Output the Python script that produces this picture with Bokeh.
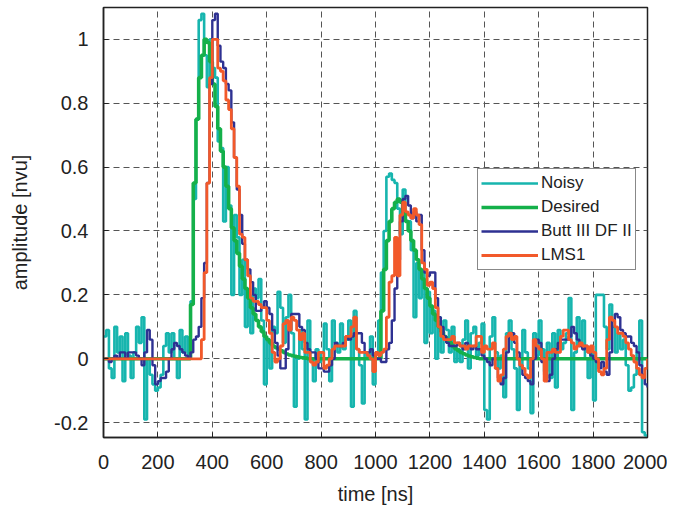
from bokeh.plotting import figure
from bokeh.models import Range1d, FixedTicker, Legend, LegendItem
from bokeh.embed import file_html
from bokeh.resources import INLINE

# sample times [ns], 10 ns sampling
time_ns = list(range(0, 2001, 10))

noisy = [
    0.07, 0.09, -0.03, -0.06, 0.10, 0.02, 0.07, -0.07, 0.08, 0.01,
    -0.06, 0.02, 0.10, 0.05, 0.13, -0.19, 0.0, -0.05, -0.08, -0.10,
    -0.09, -0.05, 0.04, 0.08, 0.02, 0.08, 0.0, -0.06, 0.09, 0.02,
    0.07, 0.01, 0.18, 0.50, 0.75, 1.06, 1.08, 0.95, 0.85, 1.00,
    0.91, 0.88, 0.68, 0.66, 0.43, 0.60, 0.48, 0.20, 0.45, 0.38,
    0.20, 0.31, 0.10, 0.20, 0.08, 0.22, 0.19, 0.25, 0.12, -0.08,
    0.06, -0.03, 0.10, 0.08, 0.21, 0.16, 0.05, 0.13, 0.20, 0.08,
    -0.15, 0.0, 0.09, 0.03, -0.19, 0.12, 0.0, -0.07, 0.03, -0.01,
    0.02, 0.11, 0.03, -0.07, 0.12, 0.05, 0.02, 0.11, 0.03, 0.06,
    0.12, -0.15, 0.15, 0.03, -0.02, -0.14, 0.02, 0.0, 0.07, -0.08,
    0.02, 0.12, 0.27, 0.40, 0.57, 0.58, 0.56, 0.55, 0.47, 0.39,
    0.53, 0.43, 0.43, 0.34, 0.13, 0.30, 0.19, 0.27, 0.05, 0.21,
    0.08, 0.15, 0.0, 0.13, 0.02, 0.12, 0.09, 0.02, 0.10, -0.01,
    0.03, -0.01, 0.06, 0.12, -0.03, 0.08, 0.10, 0.01, 0.05, 0.11,
    -0.16, -0.19, 0.07, 0.13, 0.02, -0.03, 0.01, -0.12, 0.08, 0.12,
    0.03, -0.03, -0.16, -0.02, 0.09, 0.02, -0.03, -0.17, 0.08, 0.01,
    0.12, 0.03, -0.04, 0.05, -0.06, 0.08, -0.09, 0.09, 0.03, 0.05,
    0.08, 0.19, -0.16, 0.02, 0.13, 0.04, 0.12, 0.0, -0.06, 0.02,
    -0.13, 0.20, 0.20, 0.20, 0.10, 0.03, 0.17, 0.10, 0.02, 0.08,
    0.03, 0.06, -0.02, -0.10, -0.09, -0.05, 0.02, 0.12, -0.23, -0.24,
    -0.24,
]

desired = [
    0, 0, 0, 0, 0, 0, 0, 0, 0, 0,
    0, 0, 0, 0, 0, 0, 0, 0, 0, 0,
    0, 0, 0, 0, 0, 0, 0, 0, 0, 0,
    0, 0, 0.17, 0.55, 0.75, 0.88, 0.95, 1.0, 0.99, 0.93,
    0.86, 0.79, 0.72, 0.65, 0.60, 0.54, 0.47, 0.41, 0.37, 0.33,
    0.29, 0.25, 0.22, 0.19, 0.16, 0.14, 0.12, 0.10, 0.085, 0.07,
    0.06, 0.05, 0.04, 0.035, 0.03, 0.025, 0.02, 0.015, 0.012, 0.01,
    0.008, 0.006, 0.004, 0.003, 0.002, 0, 0, 0, 0, 0,
    0, 0, 0, 0, 0, 0, 0, 0, 0, 0,
    0, 0, 0, 0, 0, 0, 0, 0, 0, 0,
    0, 0, 0.15, 0.28, 0.37, 0.43, 0.47, 0.49, 0.50, 0.49,
    0.46, 0.43, 0.40, 0.37, 0.34, 0.31, 0.28, 0.25, 0.22, 0.19,
    0.165, 0.14, 0.12, 0.10, 0.085, 0.07, 0.06, 0.05, 0.04, 0.032,
    0.026, 0.02, 0.016, 0.012, 0.009, 0.006, 0.004, 0.002, 0, 0,
    0, 0, 0, 0, 0, 0, 0, 0, 0, 0,
    0, 0, 0, 0, 0, 0, 0, 0, 0, 0,
    0, 0, 0, 0, 0, 0, 0, 0, 0, 0,
    0, 0, 0, 0, 0, 0, 0, 0, 0, 0,
    0, 0, 0, 0, 0, 0, 0, 0, 0, 0,
    0, 0, 0, 0, 0, 0, 0, 0, 0, 0,
    0,
]

butt = [
    0.0, 0.0, -0.01, 0.0, 0.01, 0.0, 0.02, 0.02, 0.0, 0.02,
    0.02, 0.02, 0.01, 0.0, -0.02, 0.02, 0.09, 0.06, -0.02, -0.08,
    -0.07, -0.06, -0.06, -0.04, 0.0, 0.03, 0.05, 0.04, 0.03, 0.02,
    0.01, 0.0, 0.02, 0.06, 0.07, 0.10, 0.19, 0.30, 0.55, 0.86,
    1.06, 1.08, 0.98, 0.93, 0.91, 0.86, 0.84, 0.74, 0.63, 0.53,
    0.45, 0.36, 0.31, 0.28, 0.24, 0.20, 0.15, 0.15, 0.16, 0.18,
    0.16, 0.14, 0.09, 0.05, 0.01, -0.03, -0.03, 0.03, 0.09, 0.14,
    0.14, 0.14, 0.10, 0.09, 0.05, 0.03, 0.02, 0.02, 0.0, -0.03,
    -0.03, -0.04, -0.04, -0.02, 0.0, 0.05, 0.04, 0.04, 0.05, 0.07,
    0.06, 0.07, 0.08, 0.08, 0.08, 0.05, 0.02, 0.02, 0.03, 0.01,
    0.0, 0.0, -0.01, -0.01, 0.03, 0.05, 0.12, 0.22, 0.31, 0.43,
    0.50, 0.51, 0.48, 0.44, 0.46, 0.43, 0.45, 0.34, 0.27, 0.26,
    0.27, 0.27, 0.19, 0.13, 0.10, 0.07, 0.05, 0.04, 0.04, 0.04,
    0.05, 0.04, 0.03, 0.05, 0.04, 0.03, 0.04, 0.03, 0.03, 0.01,
    0.0, -0.01, -0.02, 0.0, -0.03, -0.06, -0.08, -0.06, 0.02, 0.08,
    0.08, 0.05, 0.02, -0.02, -0.05, -0.06, -0.07, -0.08, 0.0, 0.06,
    0.05, -0.01, -0.05, -0.07, -0.05, 0.0, 0.03, 0.05, 0.06, 0.06,
    0.06, 0.07, 0.10, 0.08, 0.06, 0.04, 0.03, 0.04, 0.02, 0.01,
    0.0, -0.01, -0.03, -0.01, -0.04, -0.05, 0.02, 0.12, 0.14, 0.13,
    0.09, 0.08, 0.07, 0.07, 0.05, 0.04, 0.02, -0.02, -0.05, -0.08,
    -0.09,
]

lms1 = [
    0, 0, 0, 0, 0, 0, 0, 0, 0, 0,
    0, 0, 0, 0, 0, 0, 0, 0, 0, 0,
    0, 0, 0, 0, 0, 0, 0, 0, 0, 0,
    0, 0, 0, 0, 0, 0, 0.06, 0.27, 0.55, 0.88,
    1.0, 1.0, 0.91, 0.90, 0.87, 0.81, 0.78, 0.72, 0.63, 0.54,
    0.39, 0.38, 0.31, 0.26, 0.19, 0.18, 0.18, 0.17, 0.16, 0.16,
    0.12, 0.08, 0.02, -0.01, 0.0, 0.04, 0.11, 0.12, 0.09, 0.13,
    0.12, 0.09, 0.06, 0.08, 0.02, 0.02, -0.01, -0.02, -0.01, 0.02,
    0.02, -0.03, -0.02, 0.0, 0.03, 0.04, 0.04, 0.04, 0.04, 0.07,
    0.07, 0.10, 0.13, 0.03, 0.02, 0.02, 0.02, 0.01, 0.0, -0.04,
    0.02, 0.01, 0.02, 0.03, 0.13, 0.24, 0.26, 0.38, 0.26, 0.45,
    0.49, 0.46, 0.45, 0.44, 0.47, 0.45, 0.42, 0.30, 0.28, 0.23,
    0.24, 0.22, 0.16, 0.10, 0.07, 0.06, 0.06, 0.06, 0.07, 0.05,
    0.05, 0.04, 0.04, 0.03, 0.04, 0.04, 0.04, 0.07, 0.07, 0.02,
    0.04, 0.03, 0.03, 0.05, -0.03, -0.07, -0.05, 0.03, 0.07, 0.08,
    0.06, 0.07, 0.0, -0.02, -0.03, -0.05, -0.06, 0.0, 0.06, 0.04,
    0.03, 0.0, -0.07, 0.02, 0.02, 0.03, 0.02, 0.02, 0.07, 0.09,
    0.09, 0.06, 0.05, 0.03, 0.04, 0.05, 0.04, 0.04, 0.02, 0.04,
    0.02, 0.0, -0.04, -0.05, -0.03, 0.06, 0.13, 0.12, 0.10, 0.08,
    0.08, 0.07, 0.05, 0.03, 0.01, -0.01, -0.03, -0.05, -0.06, -0.03,
    0.0,
]

x_ticks = [0, 200, 400, 600, 800, 1000, 1200, 1400, 1600, 1800, 2000]
y_ticks = [-0.2, 0.0, 0.2, 0.4, 0.6, 0.8, 1.0]
y_tick_labels = ["-0.2", "0", "0.2", "0.4", "0.6", "0.8", "1"]

series_names = ["Noisy", "Desired", "Butt III DF II", "LMS1"]
series_colors = ["#17B5AE", "#14B04A", "#2E3192", "#F2592A"]
series_widths = [2.6, 3.6, 2.4, 2.8]

FONT = "Liberation Sans"
TXT = "#222222"

p = figure(
    frame_width=544, frame_height=430,
    x_range=Range1d(0, 2000), y_range=Range1d(-0.2463, 1.0995),
    output_backend="svg", toolbar_location=None,
    min_border_left=103, min_border_top=7, min_border_right=20, min_border_bottom=10,
    background_fill_color="white", border_fill_color="white",
)

items = []
for name, ys, col, w in zip(series_names, [noisy, desired, butt, lms1], series_colors, series_widths):
    r = p.step(time_ns, ys, mode="after", line_color=col, line_width=w)
    items.append(LegendItem(label=name, renderers=[r]))

legend = Legend(
    items=items, location=(374, 167), margin=0, padding=3, spacing=2,
    label_height=22, glyph_height=22, glyph_width=57, label_standoff=3,
    label_text_font=FONT, label_text_font_size="17px", label_text_color=TXT,
    border_line_color="#111111", border_line_width=1.5,
    background_fill_color="white", background_fill_alpha=1.0,
)
p.add_layout(legend)

p.xaxis.ticker = FixedTicker(ticks=x_ticks)
p.yaxis.ticker = FixedTicker(ticks=y_ticks)
p.yaxis.major_label_overrides = {t: s for t, s in zip(y_ticks, y_tick_labels)}

for ax in (p.xaxis, p.yaxis):
    ax.axis_line_color = "#222222"
    ax.axis_line_width = 1.5
    ax.major_tick_line_color = "#222222"
    ax.major_tick_in = 5
    ax.major_tick_out = 0
    ax.minor_tick_line_color = None
    ax.major_label_text_font = FONT
    ax.major_label_text_font_size = "20px"
    ax.major_label_text_color = TXT
    ax.axis_label_text_font = FONT
    ax.axis_label_text_font_size = "20px"
    ax.axis_label_text_font_style = "normal"
    ax.axis_label_text_color = TXT

p.xaxis.axis_label = "time [ns]"
p.yaxis.axis_label = "amplitude [nvu]"
p.xaxis.major_label_standoff = 17
p.yaxis.major_label_standoff = 15
p.xaxis.axis_label_standoff = 11
p.yaxis.axis_label_standoff = 20

for g in (p.xgrid, p.ygrid):
    g.grid_line_color = "#555555"
    g.grid_line_dash = "6 4"
    g.grid_line_width = 1

p.outline_line_color = "#222222"
p.outline_line_width = 1.5
p.outline_line_alpha = 1.0

open("out.html", "w").write(file_html(p, INLINE))
